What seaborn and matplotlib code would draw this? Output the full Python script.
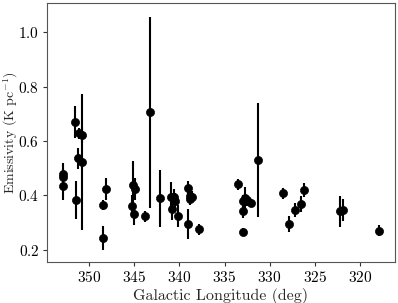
import matplotlib
matplotlib.use("Agg")
import matplotlib.pyplot as plt
import seaborn as sns
import pandas as pd

# Galactic longitude (deg), emissivity (K/pc) and 1-sigma error
longitude = [352.9, 352.9, 352.9, 351.55, 351.1, 350.75, 351.2, 350.8, 351.4,
             348.5, 348.1, 348.5, 345.1, 344.9, 345.2, 345.0, 343.3, 343.8,
             342.1, 340.95, 340.6, 340.5, 340.8, 340.1, 339.0, 338.8, 338.6,
             338.8, 339.0, 337.8, 333.5, 332.7, 333.0, 332.5, 332.1, 333.0,
             332.9, 331.25, 328.5, 327.85, 327.2, 326.5, 326.2, 322.2, 321.9,
             317.9]
emissivity = [0.480, 0.466, 0.435, 0.670, 0.629, 0.622, 0.536, 0.524, 0.383,
              0.365, 0.425, 0.243, 0.438, 0.425, 0.362, 0.331, 0.705, 0.324,
              0.389, 0.396, 0.395, 0.378, 0.350, 0.324, 0.429, 0.399, 0.395,
              0.386, 0.294, 0.275, 0.441, 0.390, 0.378, 0.382, 0.372, 0.343,
              0.267, 0.531, 0.408, 0.294, 0.346, 0.368, 0.420, 0.341, 0.346,
              0.271]
error = [0.040, 0.030, 0.050, 0.060, 0.020, 0.030, 0.040, 0.250, 0.070,
         0.020, 0.040, 0.045, 0.090, 0.040, 0.040, 0.040, 0.350, 0.020,
         0.105, 0.055, 0.030, 0.030, 0.040, 0.040, 0.025, 0.030, 0.020,
         0.020, 0.055, 0.020, 0.020, 0.040, 0.025, 0.020, 0.015, 0.025,
         0.015, 0.210, 0.020, 0.030, 0.025, 0.030, 0.025, 0.058, 0.040,
         0.020]

df = pd.DataFrame({'l': longitude, 'emis': emissivity, 'err': error})

sns.set_style("ticks")
plt.rcParams['font.family'] = 'serif'
plt.rcParams['font.serif'] = ['cmr10']
plt.rcParams['mathtext.fontset'] = 'cm'
plt.rcParams['axes.formatter.use_mathtext'] = True

fig = plt.figure(figsize=(3.98, 3.03), dpi=100)
ax = fig.add_axes([0.118, 0.135, 0.874, 0.855])

# error bars first, then the points on top
ax.errorbar(df['l'], df['emis'], yerr=df['err'], fmt='none', ecolor='black',
            elinewidth=1.5, capsize=0)
sns.scatterplot(data=df, x='l', y='emis', ax=ax, color='black', s=34,
                edgecolor='black', linewidth=0.5, zorder=3)

ax.set_xlim(354.65, 316.15)
ax.set_ylim(0.155, 1.107)
ax.set_xticks([350, 345, 340, 335, 330, 325, 320])
ax.set_yticks([0.2, 0.4, 0.6, 0.8, 1.0])
ax.set_xlabel('Galactic Longitude (deg)', fontsize=11.5, labelpad=2)
ax.set_ylabel(r'Emissivity (K pc$^{-1}$)', fontsize=10)
ax.yaxis.set_label_coords(-0.077, 0.5)
ax.tick_params(labelsize=11, length=3, width=0.8, pad=2.5,
               colors='#333333', labelcolor='black')
for s in ax.spines.values():
    s.set_color('#555555')
    s.set_linewidth(0.8)

fig.savefig('out.png', dpi=100)
